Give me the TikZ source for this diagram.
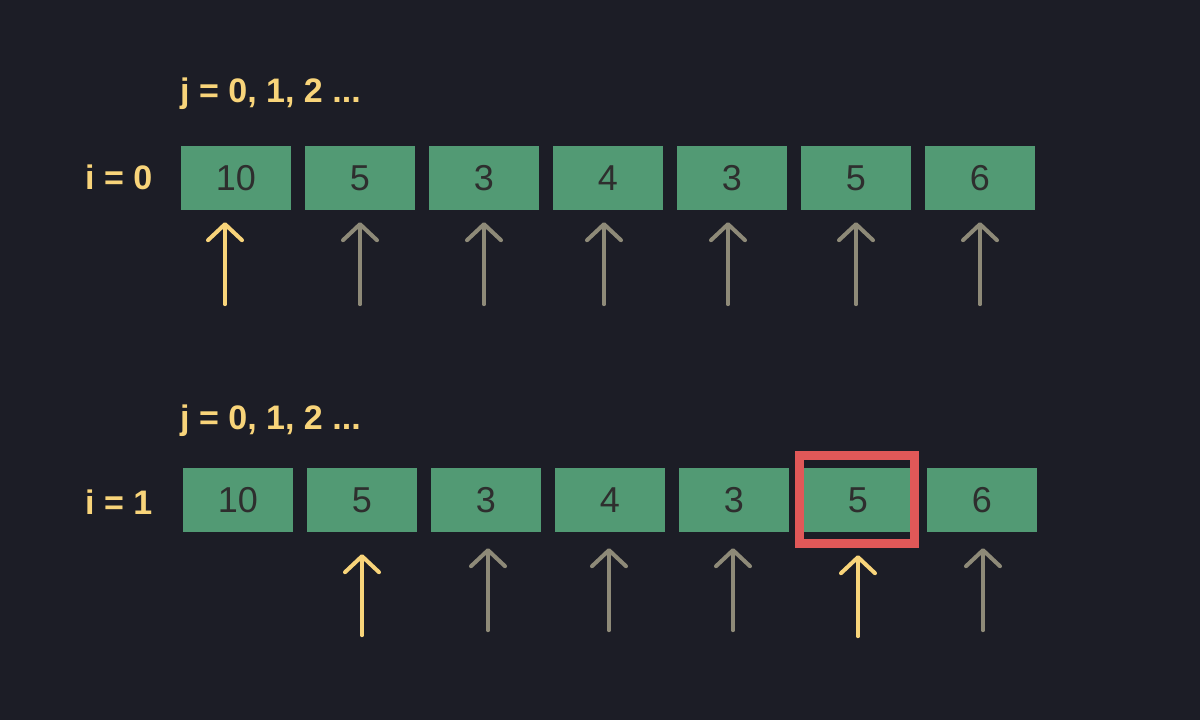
\documentclass[tikz,border=0pt]{standalone}
\usepackage{fontspec}
\setmainfont{Liberation Sans}
\usetikzlibrary{arrows.meta}

\definecolor{bgdark}{HTML}{1C1D26}
\definecolor{cellgreen}{HTML}{529A74}
\definecolor{celltext}{HTML}{2E2E2E}
\definecolor{ptryellow}{HTML}{F8D47A}
\definecolor{ptrgray}{HTML}{8E8A78}
\definecolor{markred}{HTML}{E05858}

\begin{document}
\begin{tikzpicture}[x=1pt,y=-1pt,
  cell/.style={fill=cellgreen, text=celltext, minimum width=110pt, minimum height=64pt,
    inner sep=0pt, font=\fontsize{36}{36}\selectfont},
  lbl/.style={text=ptryellow, inner sep=0pt, font=\fontsize{34}{34}\selectfont\bfseries},
  ptr/.style={line width=4pt, line cap=round, -{Straight Barb[length=16pt,width=34pt,round]}},
  curptr/.style={ptr, draw=ptryellow},
  othptr/.style={ptr, draw=ptrgray},
  hl/.style={draw=markred, line width=9pt}]
% Background and page size
\fill[bgdark] (0,0) rectangle (1200,720);
\useasboundingbox (0,0) rectangle (1200,720);

% First pass, i = 0
\node[lbl, anchor=base west] (j0) at (180,102) {j = 0, 1, 2 ...};
\node[lbl, anchor=base west] (i0) at (85,189) {i = 0};

\node[cell] (a0) at (236,178) {10};
\node[cell] (a1) at (360,178) {5};
\node[cell] (a2) at (484,178) {3};
\node[cell] (a3) at (608,178) {4};
\node[cell] (a4) at (732,178) {3};
\node[cell] (a5) at (856,178) {5};
\node[cell] (a6) at (980,178) {6};

% Pointers below the first row
\draw[curptr] ([xshift=-11pt,yshift=-94pt]a0.south) -- ([xshift=-11pt,yshift=-12pt]a0.south);
\draw[othptr] ([yshift=-94pt]a1.south) -- ([yshift=-12pt]a1.south);
\draw[othptr] ([yshift=-94pt]a2.south) -- ([yshift=-12pt]a2.south);
\draw[othptr] ([xshift=-4pt,yshift=-94pt]a3.south) -- ([xshift=-4pt,yshift=-12pt]a3.south);
\draw[othptr] ([xshift=-4pt,yshift=-94pt]a4.south) -- ([xshift=-4pt,yshift=-12pt]a4.south);
\draw[othptr] ([yshift=-94pt]a5.south) -- ([yshift=-12pt]a5.south);
\draw[othptr] ([yshift=-94pt]a6.south) -- ([yshift=-12pt]a6.south);

% Second pass, i = 1
\node[lbl, anchor=base west] (j1) at (180,429) {j = 0, 1, 2 ...};
\node[lbl, anchor=base west] (i1) at (85,514) {i = 1};

\node[cell] (b0) at (238,500) {10};
\node[cell] (b1) at (362,500) {5};
\node[cell] (b2) at (486,500) {3};
\node[cell] (b3) at (610,500) {4};
\node[cell] (b4) at (734,500) {3};
\node[cell] (b5) at (858,500) {5};
\node[cell] (b6) at (982,500) {6};

% Current minimum
\draw[hl] ([xshift=-3.5pt,yshift=12.5pt]b5.north west) rectangle ([xshift=1.5pt,yshift=-11.5pt]b5.south east);

% Pointers below the second row
\draw[curptr] ([yshift=-103pt]b1.south) -- ([yshift=-22pt]b1.south);
\draw[othptr] ([xshift=2pt,yshift=-98pt]b2.south) -- ([xshift=2pt,yshift=-16pt]b2.south);
\draw[othptr] ([xshift=-1pt,yshift=-98pt]b3.south) -- ([xshift=-1pt,yshift=-16pt]b3.south);
\draw[othptr] ([xshift=-1pt,yshift=-98pt]b4.south) -- ([xshift=-1pt,yshift=-16pt]b4.south);
\draw[curptr] ([yshift=-104pt]b5.south) -- ([yshift=-23pt]b5.south);
\draw[othptr] ([xshift=1pt,yshift=-98pt]b6.south) -- ([xshift=1pt,yshift=-16pt]b6.south);

\end{tikzpicture}
\end{document}
